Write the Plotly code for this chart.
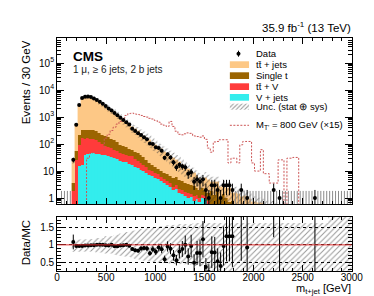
import math
import plotly.graph_objects as go

W, H = 374, 296
BIN = 30
X_EDGES = list(range(0, 3001, BIN))
CENTERS = [e + BIN / 2 for e in X_EDGES[:-1]]
N = len(CENTERS)

# ---------------- data (30 GeV bins, 0-3000 GeV; first 5 bins 0-150 empty) -------------
tt_jets = [None] * 5 + [
    20.5, 482, 2670, 4920, 5480, 5585, 5230, 4630, 4000, 3440,
    2875, 2380, 1960, 1590, 1340, 1095, 875, 705, 564, 477,
    358, 308, 255, 202, 166, 141, 118, 97, 81, 66,
    55, 44.5, 36.5, 29.5, 24.5, 19, 16.5, 12.7, 10.5, 8.8,
    6.3, 5.4, 4.2, 3.2, 2.0, 3.5, 3.0, 1.9, 2.5, 1.8,
    1.6, 1.7, 1.4, 1.7, 0.85, 1.0, 0.9, 0.6, 0.7, 0.7, 0.6,
    0.5, 0.45, 0.4, 0.4, 0.35, 0.3, 0.3, 0.3, 0.25, 0.25,
    0.2, 0.2, 0.2, 0.18, 0.15, 0.15, 0.12, 0.12, 0.1, 0.1,
    0.1, 0.09, 0.08, 0.08, 0.07, 0.07, 0.06, 0.06, 0.05, 0.05,
    0.05, 0.04, 0.04, 0.04]
single_t = [None] * 5 + [
    1.7, 28, 126, 174, 180, 170, 170, 170, 160, 140,
    125, 112, 102, 90, 78, 60, 47, 41, 36, 31,
    27, 24, 21, 18, 15, 12, 9, 7, 5.5, 4.5,
    4, 3.5, 3.2, 2.9, 3.0, 3.0, 2.3, 2.3, 1.8, 1.7,
    1.6, 1.6, 1.0, 1.0, 1.0, 0.8, 0.7, 1.3, 0.8, 1.5,
    0.5, 1.0, 0.7, 0.4, 0.5, 0.4, 0.3, 0.3, 0.3, 0.25, 0.2,
    0.15, 0.15, 0.14, 0.14, 0.13, 0.12, 0.12, 0.11, 0.1, 0.1,
    0.09, 0.09, 0.08, 0.08, 0.07, 0.07, 0.06, 0.06, 0.05, 0.05,
    0.05, 0.04, 0.04, 0.04, 0.03, 0.03, 0.03, 0.03, 0.02, 0.02,
    0.02, 0.02, 0.02, 0.02]
ttV = [None] * 5 + [
    1.8, 26, 79, 149, 120, 123, 114, 105, 96, 78,
    60, 50, 42, 36, 31, 27, 24, 22, 19, 18,
    18, 14, 11, 9, 7, 5.5, 3.7, 3.5, 3.0, 2.5,
    1.8, 1.5, 1.3, 1.0, 0.5, 0.8, 0.6, 0.6, 0.5, 0.5,
    0.3, 0.4, 0.4, 0.3, 0.3, 0.3, 0.3, 0.2, 0.2, 0.2,
    0.15, 0.15, 0.1, 0.1, 0.1, 0.1, 0.1, 0.08, 0.08, 0.05, 0.05,
    0.04, 0.04, 0.04, 0.04, 0.03, 0.03, 0.03, 0.03, 0.03, 0.03,
    0.02, 0.02, 0.02, 0.02, 0.02, 0.02, 0.02, 0.02, 0.01, 0.01,
    0.01, 0.01, 0.01, 0.01, 0.01, 0.01, 0.01, 0.01, 0.01, 0.01,
    0.01, 0.01, 0.01, 0.01]
v_jets = [None] * 5 + [
    0.001, 0.001, 15, 17, 40, 42, 46, 45, 44, 42,
    40, 38, 36, 34, 31, 28, 24, 22, 21, 19,
    17, 14, 13, 11, 10, 8.5, 7.3, 6.5, 5.5, 5,
    4.2, 3.5, 3, 2.6, 2.0, 2.2, 1.6, 1.4, 1.2, 1.0,
    1.1, 0.8, 0.9, 0.7, 1.0, 0.9, 0.5, 0.4, 0.35, 0.3,
    0.3, 0.25, 0.2, 0.2, 0.15, 0.1, 0.1, 0.1, 0.1, 0.08, 0.08,
    0.05, 0.05, 0.05, 0.05, 0.04, 0.04, 0.04, 0.04, 0.03, 0.03,
    0.03, 0.03, 0.02, 0.02, 0.02, 0.02, 0.02, 0.02, 0.02, 0.02,
    0.01, 0.01, 0.01, 0.01, 0.01, 0.01, 0.01, 0.01, 0.01, 0.01,
    0.01, 0.01, 0.01, 0.01]
data_counts = [None, 0, 0, 0, 0] + [
    26, 520, 2800, 5100, 5700, 5800, 5500, 4900, 4300, 3700,
    3100, 2550, 2100, 1750, 1420, 1160, 950, 780, 640, 530,
    370, 305, 250, 215, 180, 150, 105, 100, 76, 72,
    57, 31, 42, 32, 21, 14, 17, 15, 14, 8,
    9, 4, 5, 4, 5, 2, 1, 3, 3, 2,
    1, 3, 3, 3, 2, 0, 0, 2, 0, 1, 0,
    0, 0, 0, 0, 0, 0, 0, 2, 0, 1,
    0, 0, 0, 0, 0, 0, 0, 0, 0, 0,
    0, 1, 0, 0, 0, 0, 0, 0, 0, 0,
    0, 0, 0, 0]
signal_x15 = [0] * 5 + [
    0, 0, 0, 0, 0, 30, 45, 50, 50, 55,
    60, 166, 230, 320, 420, 550, 690, 900, 1150, 1350,
    1400, 1300, 1250, 1150, 1050, 1000, 900, 850, 750, 650,
    550, 500, 450, 690, 450, 300, 230, 220, 240, 260,
    250, 200, 190, 180, 200, 150, 71, 50, 120, 125,
    145, 145, 145, 20, 30, 30, 20, 94, 125, 125, 125,
    20, 10, 10, 62, 8, 8, 3.6, 3.6, 3.6, 26,
    26, 0, 30, 30, 32, 32, 0, 0, 0, 0,
    0, 0, 0, 0, 0, 0, 0, 0, 0, 0,
    0, 0, 0, 0]
# relative MC uncertainty band (upper / lower edge of MC ratio)
unc_up = [None] * 5 + [
    1.15, 1.16, 1.17, 1.17, 1.17, 1.17, 1.17, 1.17, 1.2, 1.2,
    1.2, 1.25, 1.25, 1.25, 1.28, 1.3, 1.32, 1.34, 1.36, 1.38,
    1.4, 1.42, 1.44, 1.46, 1.47, 1.48, 1.5, 1.51, 1.52, 1.53,
    1.54, 1.55, 1.56, 1.57, 1.58, 1.58, 1.6, 1.6, 1.6, 1.6,
    1.6, 1.63, 1.63, 1.63, 1.63, 1.63, 1.63, 1.63, 1.63, 1.63,
    1.63, 1.63, 1.63, 1.63, 1.63, 1.63, 1.63, 1.63, 1.63, 1.63,
    1.63, 1.63, 1.63, 1.63, 1.63, 1.63, 1.63, 1.63, 1.63, 1.63,
    1.63, 1.63, 1.63, 1.63, 1.63, 1.63, 1.63, 1.63, 1.63, 1.63,
    1.63, 1.63, 1.63, 1.63, 1.63, 1.63, 1.63, 1.95, 1.95, 1.95,
    1.95, 1.95, 1.95, 1.95, 1.95]
unc_dn = [None] * 5 + [
    0.8, 0.81, 0.81, 0.81, 0.81, 0.81, 0.81, 0.81, 0.78, 0.78,
    0.78, 0.75, 0.75, 0.75, 0.72, 0.7, 0.68, 0.67, 0.66, 0.65,
    0.62, 0.6, 0.58, 0.56, 0.55, 0.54, 0.52, 0.5, 0.49, 0.48,
    0.47, 0.47, 0.47, 0.46, 0.46, 0.46, 0.44, 0.44, 0.44, 0.44,
    0.44, 0.39, 0.39, 0.39, 0.39, 0.1, 0.1, 0.1, 0.1, 0.1,
    0.1, 0.1, 0.1, 0.1, 0.1, 0.1, 0.1, 0.1, 0.1, 0.1,
    0.1, 0.1, 0.1, 0.1, 0.1, 0.1, 0.1, 0.1, 0.1, 0.1,
    0.1, 0.1, 0.1, 0.1, 0.1, 0.1, 0.1, 0.1, 0.1, 0.1,
    0.1, 0.1, 0.1, 0.1, 0.1, 0.1, 0.1, 0.1, 0.1, 0.1,
    0.1, 0.1, 0.1, 0.1, 0.1]
ZERO_COUNT_UPPER = 1.84
Y_TICKS = [1, 10, 100, 1000, 10000, 100000]
Y_TICKTEXT = ["1", "10", "10<sup>2</sup>", "10<sup>3</sup>", "10<sup>4</sup>", "10<sup>5</sup>"]

# ---------------- styles ----------------
C_TT = "#fdc886"
C_ST = "#9b6400"
C_TTV = "#ff3b3b"
C_VJ = "#33eded"
C_SIG = "#cc5555"
FONT = "Liberation Sans"

total = [None if tt_jets[i] is None else tt_jets[i] + single_t[i] + ttV[i] + v_jets[i] for i in range(N)]

fig = go.Figure()

# stacked MC
for vals, col in [(v_jets, C_VJ), (ttV, C_TTV), (single_t, C_ST), (tt_jets, C_TT)]:
    fig.add_trace(go.Bar(x=CENTERS, y=vals, width=BIN, marker=dict(color=col, line=dict(width=0.4, color=col)),
                         xaxis="x", yaxis="y", showlegend=False, hoverinfo="skip"))


def band(lo, hi):
    xs_u, ys_u, xs_l, ys_l = [], [], [], []
    for i in range(N):
        if hi[i] is None:
            continue
        xs_u += [X_EDGES[i], X_EDGES[i + 1]]
        ys_u += [hi[i], hi[i]]
        xs_l += [X_EDGES[i], X_EDGES[i + 1]]
        ys_l += [lo[i], lo[i]]
    return xs_u + xs_l[::-1], ys_u + ys_l[::-1]


HATCH = dict(shape="/", fgcolor="#333333", bgcolor="rgba(0,0,0,0)", size=4, solidity=0.25)

mc_hi = [None if total[i] is None else total[i] * unc_up[i] for i in range(N)]
mc_lo = [None if total[i] is None else total[i] * unc_dn[i] for i in range(N)]
bx, by = band(mc_lo, mc_hi)
fig.add_trace(go.Scatter(x=bx, y=by, fill="toself", fillpattern=HATCH, line=dict(width=0),
                         mode="lines", xaxis="x", yaxis="y", showlegend=False, hoverinfo="skip"))

# signal
sig_y = [v if v > 0 else 1e-3 for v in signal_x15]
fig.add_trace(go.Scatter(x=X_EDGES, y=sig_y + [sig_y[-1]], mode="lines", line_shape="hv",
                         line=dict(color=C_SIG, width=1, dash="2px,1.5px"),
                         xaxis="x", yaxis="y", showlegend=False, hoverinfo="skip"))

# zero-count bins
zx, zy = [], []
for i in range(N):
    if data_counts[i] == 0:
        zx += [CENTERS[i], CENTERS[i], None]
        zy += [0.01, ZERO_COUNT_UPPER, None]
fig.add_trace(go.Scatter(x=zx, y=zy, mode="lines", line=dict(color="#8a8a8a", width=1),
                         xaxis="x", yaxis="y", showlegend=False, hoverinfo="skip"))

# data
dx, dy, de, dem = [], [], [], []
for i in range(N):
    n = data_counts[i]
    if n:
        dx.append(CENTERS[i]); dy.append(n)
        s = math.sqrt(n)
        de.append(s); dem.append(min(s, n - 0.01))
fig.add_trace(go.Scatter(x=dx, y=dy, mode="markers", marker=dict(color="black", size=4),
                         error_y=dict(type="data", array=de, arrayminus=dem, color="black", thickness=1, width=0),
                         xaxis="x", yaxis="y", showlegend=False, hoverinfo="skip"))

# ratio band
rx, ry = band(unc_dn, unc_up)
fig.add_trace(go.Scatter(x=rx, y=ry, fill="toself", fillpattern=HATCH, line=dict(width=0),
                         mode="lines", xaxis="x2", yaxis="y2", showlegend=False, hoverinfo="skip"))

# ratio data
qx, qy, qe = [], [], []
for i in range(N):
    n = data_counts[i]
    if n and total[i]:
        qx.append(CENTERS[i]); qy.append(n / total[i]); qe.append(math.sqrt(n) / total[i])
fig.add_trace(go.Scatter(x=qx, y=qy, mode="markers", marker=dict(color="black", size=4),
                         error_y=dict(type="data", array=qe, color="black", thickness=1, width=0),
                         xaxis="x2", yaxis="y2", showlegend=False, hoverinfo="skip"))

# ---------------- legend (overlay axis in pixel units) ----------------
LX0, LX1, TX = 228, 248, 253
fig.add_trace(go.Scatter(x=[237], y=[45.7], mode="markers", marker=dict(color="black", size=4),
                         error_y=dict(type="constant", value=3, color="black", thickness=1, width=0),
                         xaxis="x3", yaxis="y3", showlegend=False, hoverinfo="skip"))
for (y0, y1), col in [((53.3, 60), C_TT), ((64.3, 71), C_ST), ((75.3, 82), C_TTV), ((86, 92.7), C_VJ)]:
    fig.add_trace(go.Scatter(x=[LX0, LX1, LX1, LX0, LX0], y=[y0, y0, y1, y1, y0], fill="toself",
                             fillcolor=col, line=dict(width=0), mode="lines",
                             xaxis="x3", yaxis="y3", showlegend=False, hoverinfo="skip"))
fig.add_trace(go.Scatter(x=[LX0, LX1, LX1, LX0, LX0], y=[95.7, 95.7, 101.7, 101.7, 95.7], fill="toself",
                         fillpattern=dict(shape="/", fgcolor="#333333", bgcolor="rgba(0,0,0,0)", size=3, solidity=0.35),
                         line=dict(width=0), mode="lines",
                         xaxis="x3", yaxis="y3", showlegend=False, hoverinfo="skip"))
fig.add_trace(go.Scatter(x=[LX0, LX1], y=[117.3, 117.3], mode="lines",
                         line=dict(color=C_SIG, width=1, dash="2px,1.5px"),
                         xaxis="x3", yaxis="y3", showlegend=False, hoverinfo="skip"))

legend_texts = [("Data", 45.7), ("tt\u0304 + jets", 56.7), ("Single t", 67.7), ("tt\u0304 + V", 78.7),
                ("V + jets", 89.3), ("Unc. (stat \u2295 sys)", 98.7), ("M<sub>T'</sub> = 800 GeV (\u00d715)", 117.3)]


def px(x):
    return x / W


def py(y):
    return 1 - y / H


ann = []
for t, y in legend_texts:
    ann.append(dict(text=t, x=px(TX), y=py(y), xref="paper", yref="paper", xanchor="left", yanchor="middle",
                    showarrow=False, font=dict(family=FONT, size=9.5, color="black")))
ann += [
    dict(text="<b>CMS</b>", x=px(62), y=py(48), xanchor="left", yanchor="middle",
         font=dict(family=FONT, size=13.5, color="black")),
    dict(text="1 \u03bc, \u2265 6 jets, 2 b jets", x=px(63), y=py(61.5), xanchor="left", yanchor="middle",
         font=dict(family=FONT, size=10, color="#222")),
    dict(text="35.9 fb<sup>-1</sup> (13 TeV)", x=px(356), y=py(19), xanchor="right", yanchor="middle",
         font=dict(family=FONT, size=11.5, color="black")),
    dict(text="Events / 30 GeV", x=px(16), y=py(30), xanchor="center", yanchor="top", textangle=-90,
         font=dict(family=FONT, size=11.5, color="black")),
    dict(text="Data/MC", x=px(16), y=py(235), xanchor="center", yanchor="middle", textangle=-90,
         font=dict(family=FONT, size=11.5, color="black")),
    dict(text="m<sub>t+jet</sub> [GeV]", x=px(356), y=py(281), xanchor="right", yanchor="middle",
         font=dict(family=FONT, size=11, color="black")),
]
for a in ann:
    a.setdefault("xref", "paper"); a.setdefault("yref", "paper"); a.setdefault("showarrow", False)

XD = [48 / W, 355 / W]
common = dict(showline=True, linecolor="black", linewidth=1, mirror="allticks", ticks="inside",
              tickcolor="black", showgrid=False, zeroline=False, tickfont=dict(family=FONT, size=10, color="black"))
xcommon = dict(common, range=[0, 3000], tickmode="linear", tick0=0, dtick=500, ticklen=6,
               minor=dict(ticks="inside", ticklen=3, dtick=100, tickcolor="black"))

minor_log = [d * 10 ** p for p in range(-1, 6) for d in range(2, 10)]

fig.update_layout(
    width=W, height=H, margin=dict(l=0, r=0, t=0, b=0),
    paper_bgcolor="white", plot_bgcolor="rgba(0,0,0,0)",
    barmode="stack", bargap=0, showlegend=False,
    xaxis=dict(xcommon, domain=XD, anchor="y", showticklabels=False),
    yaxis=dict(common, domain=[(H - 196) / H, (H - 30) / H], anchor="x", type="log", range=[-0.22, 5.93],
               tickmode="array", tickvals=Y_TICKS, ticktext=Y_TICKTEXT, ticklen=7,
               minor=dict(ticks="inside", ticklen=3.5, tickmode="array", tickvals=minor_log, tickcolor="black")),
    xaxis2=dict(xcommon, domain=XD, anchor="y2", showticklabels=True, ticklabelstandoff=-3),
    yaxis2=dict(common, domain=[(H - 263) / H, (H - 209) / H], anchor="x2", range=[0.25, 1.8],
                tickmode="array", tickvals=[0.5, 1, 1.5], ticktext=["0.5", "1", "1.5"], ticklen=7,
                showgrid=True, gridcolor="black", gridwidth=1, griddash="dot",
                minor=dict(ticks="inside", ticklen=3.5, dtick=0.1, tickcolor="black")),
    xaxis3=dict(domain=[0, 1], range=[0, W], visible=False, anchor="y3", fixedrange=True),
    yaxis3=dict(domain=[0, 1], range=[H, 0], visible=False, anchor="x3", fixedrange=True),
    annotations=ann,
    shapes=[dict(type="line", xref="x2", yref="y2", x0=0, x1=3000, y0=1, y1=1,
                 line=dict(color="#e03030", width=1))],
)

fig.write_html("out.html")
